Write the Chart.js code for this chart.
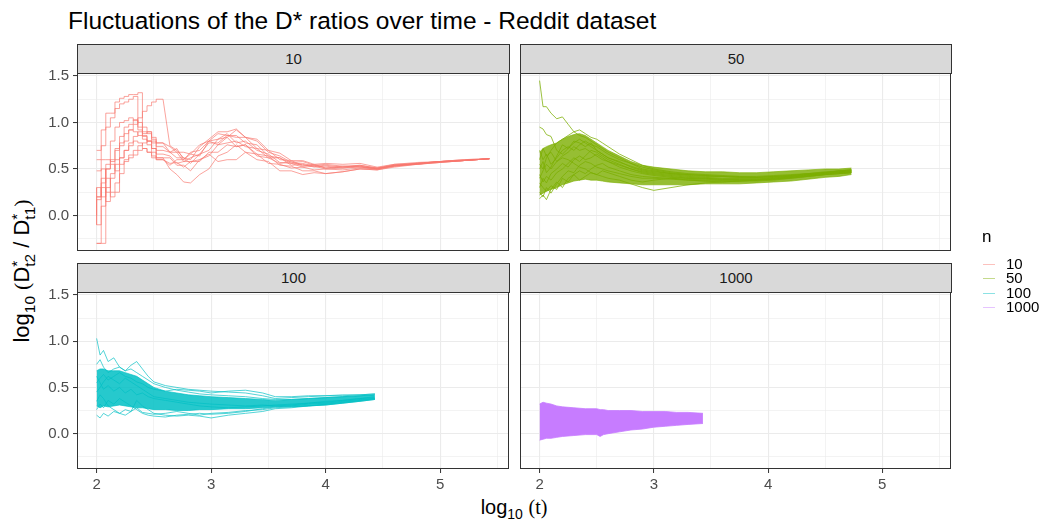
<!DOCTYPE html>
<html>
<head>
<meta charset="utf-8">
<script src="https://cdn.jsdelivr.net/npm/chart.js@4.4.1/dist/chart.umd.min.js"></script>
<style>
  body { margin: 0; background: #fff; width: 1046px; height: 525px; position: relative; overflow: hidden;
         font-family: "Liberation Sans", Arial, sans-serif; }
  canvas { position: absolute; }
  .strip { position: absolute; background: #d9d9d9; border: 1px solid #333; box-sizing: border-box;
           text-align: center; font-size: 15px; color: #1a1a1a; }
  .serif { font-family: "Liberation Serif", "Times New Roman", serif; }
  .stack { display: inline-flex; flex-direction: column; vertical-align: middle; line-height: 0.85; font-size: 0.7em; }
  #title { position: absolute; left: 68px; top: 7px; font-size: 24.5px; color: #000; white-space: nowrap; }
  #xtitle { position: absolute; left: 514px; top: 509px; transform: translate(-50%, -50%); font-size: 20px; white-space: nowrap; }
  #ytitle { position: absolute; left: 24px; top: 271px; transform: translate(-50%, -50%) rotate(-90deg); font-size: 22px; white-space: nowrap; }
  .leg { position: absolute; font-size: 15px; color: #000; white-space: nowrap; }
  .key { position: absolute; height: 1px; width: 12px; }
</style>
</head>
<body>
<div id="title">Fluctuations of the D* ratios over time - Reddit dataset</div>
<div id="xtitle">log<sub style="font-size:0.7em">10</sub> <span class="serif">(t)</span></div>
<div id="ytitle">log<sub style="font-size:0.7em">10</sub> <span class="serif">(</span>D<span class="stack"><span>*</span><span>t2</span></span> / D<span class="stack"><span>*</span><span>t1</span></span><span class="serif">)</span></div>
<canvas id="p10"></canvas>
<canvas id="p50"></canvas>
<canvas id="p100"></canvas>
<canvas id="p1000"></canvas>
<script>
// facet labels and legend
const nLevels = ["10", "50", "100", "1000"];
const nColors = ["#F8766D", "#7CAE00", "#00BFC4", "#C77CFF"];

// axis ticks (major + minor grid)
const xTicks = [2, 2.5, 3, 3.5, 4, 4.5, 5, 5.5];
const yTicks = [-0.25, 0, 0.25, 0.5, 0.75, 1, 1.25, 1.5];

// ---- n = 10 ----
const x10 = [2.00, 2.04, 2.08, 2.12, 2.16, 2.20, 2.24, 2.28, 2.32, 2.36, 2.40, 2.44, 2.48, 2.52, 2.58, 2.64, 2.70, 2.76, 2.82, 2.90,
             2.98, 3.06, 3.14, 3.22, 3.30, 3.40, 3.50, 3.60, 3.70, 3.80, 3.90, 4.00, 4.15, 4.30, 4.45, 4.60, 4.80, 5.00, 5.20, 5.43];
const lines10 = [
  [0.70, 0.70, 0.92, 1.10, 1.10, 1.22, 1.26, 1.28, 1.30, 1.30, 1.32, 0.90, 0.88, 0.82, 0.78, 0.68, 0.72, 0.60, 0.66, 0.64, 0.80, 0.76, 0.84, 0.74, 0.76, 0.64, 0.62, 0.56, 0.58, 0.53, 0.55, 0.51, 0.52, 0.53, 0.50, 0.54, 0.55, 0.58, 0.59, 0.61],
  [0.48, 0.48, 0.60, 0.60, 0.58, 0.70, 0.75, 0.80, 0.92, 0.98, 1.05, 1.12, 1.18, 1.22, 1.25, 0.75, 0.70, 0.62, 0.56, 0.66, 0.70, 0.82, 0.84, 0.92, 0.84, 0.80, 0.68, 0.64, 0.57, 0.58, 0.54, 0.55, 0.53, 0.52, 0.51, 0.53, 0.56, 0.57, 0.59, 0.61],
  [-0.30, -0.30, -0.30, 0.30, 0.45, 0.55, 0.62, 0.70, 0.78, 0.85, 0.90, 0.86, 0.80, 0.72, 0.62, 0.50, 0.44, 0.36, 0.35, 0.44, 0.50, 0.64, 0.68, 0.76, 0.68, 0.66, 0.56, 0.55, 0.51, 0.52, 0.49, 0.50, 0.49, 0.51, 0.50, 0.54, 0.56, 0.58, 0.60, 0.61],
  [0.17, -0.10, 0.40, 0.55, 0.80, 0.95, 1.00, 1.02, 1.05, 1.02, 0.92, 0.85, 0.80, 0.72, 0.66, 0.64, 0.56, 0.58, 0.62, 0.66, 0.78, 0.78, 0.86, 0.84, 0.84, 0.72, 0.70, 0.60, 0.59, 0.54, 0.54, 0.51, 0.53, 0.54, 0.51, 0.55, 0.56, 0.58, 0.59, 0.61],
  [0.00, 0.30, 0.20, 0.40, 0.25, 0.35, 0.55, 0.58, 0.62, 0.65, 0.70, 0.72, 0.68, 0.62, 0.60, 0.56, 0.57, 0.52, 0.58, 0.58, 0.68, 0.68, 0.76, 0.74, 0.76, 0.66, 0.64, 0.54, 0.53, 0.48, 0.48, 0.45, 0.47, 0.50, 0.49, 0.52, 0.55, 0.57, 0.59, 0.61],
  [0.30, 0.20, 0.50, 0.25, 0.20, 0.25, 0.45, 0.60, 0.65, 0.70, 0.75, 0.78, 0.80, 0.78, 0.70, 0.68, 0.62, 0.62, 0.60, 0.74, 0.82, 0.90, 0.90, 0.93, 0.84, 0.82, 0.70, 0.67, 0.59, 0.59, 0.55, 0.56, 0.55, 0.56, 0.52, 0.55, 0.57, 0.58, 0.60, 0.61],
  [-0.30, -0.30, 0.10, 0.50, 0.60, 0.72, 0.85, 0.95, 0.98, 1.03, 0.95, 0.88, 0.90, 0.80, 0.74, 0.68, 0.68, 0.58, 0.58, 0.60, 0.66, 0.58, 0.60, 0.60, 0.68, 0.60, 0.58, 0.48, 0.48, 0.44, 0.46, 0.45, 0.47, 0.50, 0.49, 0.53, 0.55, 0.57, 0.59, 0.61],
  [0.60, 0.60, 0.75, 0.95, 1.05, 1.15, 1.20, 1.22, 1.25, 1.28, 1.00, 0.95, 0.90, 0.84, 0.78, 0.74, 0.68, 0.68, 0.66, 0.76, 0.80, 0.88, 0.86, 0.86, 0.78, 0.76, 0.64, 0.62, 0.56, 0.56, 0.53, 0.54, 0.52, 0.54, 0.51, 0.54, 0.56, 0.58, 0.59, 0.61],
  [0.17, 0.17, 0.35, 0.50, 0.55, 0.48, 0.62, 0.70, 0.75, 0.80, 0.78, 0.72, 0.68, 0.64, 0.60, 0.54, 0.60, 0.60, 0.68, 0.70, 0.80, 0.82, 0.88, 0.78, 0.80, 0.70, 0.66, 0.57, 0.56, 0.52, 0.53, 0.50, 0.51, 0.52, 0.50, 0.53, 0.56, 0.58, 0.59, 0.61],
  [-0.10, 0.20, 0.30, 0.15, 0.40, 0.60, 0.78, 0.88, 0.92, 0.90, 0.86, 0.82, 0.76, 0.68, 0.62, 0.62, 0.54, 0.54, 0.48, 0.60, 0.64, 0.76, 0.78, 0.80, 0.74, 0.72, 0.62, 0.62, 0.54, 0.55, 0.52, 0.53, 0.51, 0.53, 0.50, 0.54, 0.55, 0.58, 0.59, 0.61]
];
const stepEnd10 = 14; // the first points of each n=10 line are drawn as steps

// ---- n = 50 ----
const x50 = [2.00, 2.03, 2.06, 2.10, 2.15, 2.20, 2.25, 2.30, 2.35, 2.40, 2.45, 2.50, 2.55, 2.60, 2.70, 2.80, 2.90, 3.00, 3.15, 3.30,
             3.45, 3.60, 3.75, 3.90, 4.05, 4.20, 4.35, 4.50, 4.62, 4.73];
const band50Hi = [0.68, 0.72, 0.74, 0.76, 0.78, 0.82, 0.85, 0.87, 0.88, 0.86, 0.82, 0.78, 0.74, 0.70, 0.64, 0.58, 0.54, 0.52, 0.50, 0.48, 0.47, 0.47, 0.46, 0.46, 0.47, 0.48, 0.49, 0.50, 0.50, 0.51];
const band50Lo = [0.22, 0.24, 0.26, 0.28, 0.30, 0.33, 0.35, 0.37, 0.38, 0.39, 0.38, 0.38, 0.37, 0.36, 0.35, 0.34, 0.33, 0.33, 0.33, 0.33, 0.34, 0.34, 0.34, 0.35, 0.36, 0.37, 0.39, 0.41, 0.42, 0.44];
const lines50 = [
  [1.45, 1.17, 1.17, 1.10, 1.04, 1.06, 0.98, 0.90, 0.86, 0.84, 0.80, 0.76, 0.72, 0.68, 0.62, 0.56, 0.52, 0.49, 0.46, 0.44, 0.43, 0.42, 0.41, 0.41, 0.42, 0.43, 0.44, 0.46, 0.47, 0.48],
  [0.95, 0.93, 0.87, 0.85, 0.70, 0.66, 0.72, 0.78, 0.82, 0.78, 0.74, 0.70, 0.66, 0.62, 0.58, 0.52, 0.48, 0.46, 0.44, 0.42, 0.41, 0.40, 0.40, 0.40, 0.41, 0.42, 0.44, 0.46, 0.47, 0.48],
  [0.55, 0.50, 0.62, 0.70, 0.78, 0.82, 0.86, 0.90, 0.92, 0.88, 0.84, 0.82, 0.78, 0.74, 0.66, 0.60, 0.54, 0.50, 0.47, 0.45, 0.44, 0.43, 0.42, 0.42, 0.43, 0.44, 0.45, 0.47, 0.48, 0.49],
  [0.18, 0.22, 0.17, 0.28, 0.36, 0.30, 0.40, 0.44, 0.38, 0.42, 0.46, 0.44, 0.48, 0.46, 0.42, 0.38, 0.36, 0.38, 0.40, 0.38, 0.37, 0.36, 0.37, 0.37, 0.38, 0.40, 0.42, 0.44, 0.45, 0.46],
  [0.40, 0.48, 0.55, 0.50, 0.58, 0.62, 0.60, 0.56, 0.52, 0.50, 0.46, 0.44, 0.42, 0.40, 0.38, 0.34, 0.30, 0.27, 0.30, 0.33, 0.35, 0.36, 0.37, 0.38, 0.39, 0.40, 0.42, 0.44, 0.45, 0.46],
  [0.70, 0.60, 0.66, 0.55, 0.62, 0.70, 0.74, 0.70, 0.76, 0.80, 0.76, 0.74, 0.70, 0.66, 0.60, 0.56, 0.50, 0.48, 0.45, 0.43, 0.42, 0.42, 0.41, 0.41, 0.42, 0.43, 0.45, 0.46, 0.48, 0.49],
  [0.30, 0.40, 0.35, 0.45, 0.50, 0.56, 0.52, 0.60, 0.64, 0.60, 0.62, 0.66, 0.62, 0.58, 0.54, 0.50, 0.46, 0.44, 0.42, 0.40, 0.39, 0.38, 0.38, 0.38, 0.40, 0.41, 0.43, 0.45, 0.46, 0.47],
  [0.60, 0.72, 0.64, 0.68, 0.58, 0.64, 0.68, 0.74, 0.70, 0.72, 0.68, 0.64, 0.60, 0.58, 0.52, 0.48, 0.45, 0.43, 0.41, 0.40, 0.40, 0.39, 0.39, 0.39, 0.40, 0.42, 0.43, 0.45, 0.46, 0.47],
  [0.25, 0.20, 0.30, 0.24, 0.34, 0.42, 0.48, 0.46, 0.54, 0.58, 0.56, 0.52, 0.50, 0.48, 0.45, 0.42, 0.40, 0.40, 0.39, 0.38, 0.37, 0.37, 0.37, 0.38, 0.39, 0.41, 0.42, 0.44, 0.45, 0.46],
  [0.50, 0.58, 0.46, 0.52, 0.64, 0.76, 0.72, 0.80, 0.78, 0.74, 0.78, 0.70, 0.66, 0.62, 0.57, 0.53, 0.49, 0.47, 0.45, 0.44, 0.43, 0.42, 0.42, 0.41, 0.42, 0.43, 0.45, 0.46, 0.48, 0.49],
  [0.44, 0.36, 0.42, 0.38, 0.46, 0.50, 0.56, 0.62, 0.58, 0.64, 0.70, 0.68, 0.64, 0.60, 0.55, 0.50, 0.47, 0.45, 0.43, 0.41, 0.40, 0.39, 0.39, 0.39, 0.41, 0.42, 0.44, 0.45, 0.47, 0.48],
  [0.35, 0.30, 0.26, 0.32, 0.28, 0.40, 0.36, 0.44, 0.48, 0.45, 0.50, 0.54, 0.56, 0.52, 0.48, 0.44, 0.42, 0.41, 0.40, 0.39, 0.38, 0.38, 0.38, 0.38, 0.39, 0.41, 0.43, 0.44, 0.46, 0.47]
];

// ---- n = 100 ----
const x100 = [2.00, 2.03, 2.06, 2.10, 2.15, 2.20, 2.25, 2.30, 2.35, 2.40, 2.45, 2.50, 2.60, 2.70, 2.80, 2.90, 3.00, 3.15, 3.30, 3.45,
              3.56, 3.70, 3.85, 4.00, 4.15, 4.30, 4.43];
const band100Hi = [0.68, 0.70, 0.70, 0.68, 0.68, 0.68, 0.66, 0.64, 0.62, 0.58, 0.54, 0.50, 0.46, 0.44, 0.42, 0.41, 0.40, 0.39, 0.38, 0.37, 0.36, 0.37, 0.38, 0.39, 0.40, 0.41, 0.42];
const band100Lo = [0.30, 0.28, 0.30, 0.29, 0.30, 0.31, 0.30, 0.29, 0.28, 0.28, 0.27, 0.26, 0.26, 0.25, 0.25, 0.26, 0.26, 0.27, 0.27, 0.28, 0.29, 0.29, 0.30, 0.31, 0.33, 0.35, 0.37];
const lines100 = [
  [1.03, 0.85, 0.90, 0.78, 0.82, 0.72, 0.68, 0.70, 0.66, 0.62, 0.58, 0.54, 0.50, 0.47, 0.45, 0.43, 0.42, 0.41, 0.40, 0.38, 0.37, 0.37, 0.38, 0.39, 0.40, 0.41, 0.42],
  [0.75, 0.80, 0.72, 0.66, 0.70, 0.72, 0.68, 0.74, 0.78, 0.70, 0.62, 0.56, 0.52, 0.50, 0.48, 0.47, 0.46, 0.45, 0.44, 0.41, 0.38, 0.39, 0.40, 0.41, 0.41, 0.42, 0.43],
  [0.20, 0.17, 0.22, 0.19, 0.24, 0.22, 0.26, 0.24, 0.36, 0.30, 0.26, 0.22, 0.20, 0.19, 0.20, 0.19, 0.17, 0.20, 0.22, 0.24, 0.27, 0.28, 0.30, 0.31, 0.33, 0.35, 0.37],
  [0.55, 0.60, 0.64, 0.58, 0.62, 0.66, 0.62, 0.60, 0.56, 0.54, 0.50, 0.48, 0.46, 0.48, 0.47, 0.46, 0.44, 0.46, 0.47, 0.44, 0.40, 0.40, 0.41, 0.41, 0.42, 0.42, 0.43],
  [0.35, 0.42, 0.38, 0.30, 0.26, 0.22, 0.20, 0.24, 0.28, 0.23, 0.22, 0.21, 0.22, 0.24, 0.22, 0.20, 0.22, 0.23, 0.25, 0.26, 0.28, 0.29, 0.30, 0.32, 0.34, 0.36, 0.38],
  [0.45, 0.50, 0.56, 0.62, 0.58, 0.54, 0.60, 0.56, 0.52, 0.48, 0.44, 0.40, 0.38, 0.36, 0.34, 0.33, 0.32, 0.31, 0.30, 0.31, 0.30, 0.31, 0.33, 0.34, 0.36, 0.38, 0.40],
  [0.62, 0.55, 0.48, 0.52, 0.46, 0.50, 0.44, 0.48, 0.42, 0.44, 0.40, 0.38, 0.36, 0.34, 0.32, 0.30, 0.29, 0.28, 0.29, 0.30, 0.31, 0.32, 0.33, 0.35, 0.36, 0.38, 0.39],
  [0.26, 0.32, 0.28, 0.36, 0.32, 0.38, 0.34, 0.30, 0.26, 0.22, 0.20, 0.19, 0.18, 0.20, 0.21, 0.22, 0.21, 0.22, 0.24, 0.27, 0.29, 0.30, 0.32, 0.33, 0.35, 0.37, 0.38]
];

// ---- n = 1000 ----
const x1000 = [2.00, 2.03, 2.06, 2.10, 2.15, 2.20, 2.30, 2.40, 2.50, 2.53, 2.56, 2.60, 2.70, 2.80, 2.90, 3.00, 3.10, 3.20, 3.30, 3.43];
const band1000Hi = [0.32, 0.34, 0.33, 0.32, 0.30, 0.29, 0.28, 0.27, 0.27, 0.26, 0.26, 0.25, 0.25, 0.25, 0.24, 0.24, 0.24, 0.23, 0.23, 0.22];
const band1000Lo = [-0.07, -0.06, -0.05, -0.05, -0.04, -0.03, -0.02, -0.01, -0.01, -0.03, -0.01, 0.00, 0.02, 0.04, 0.05, 0.07, 0.08, 0.09, 0.10, 0.11];

// ---- layout (pixels) ----
const xMin = 1.8285, xMax = 5.6015, yMin = -0.382, yMax = 1.532;
const panels = [
  { id: "p10",   x: 77,  y: 73,  w: 432, h: 178, showX: false, showY: true },
  { id: "p50",   x: 520, y: 73,  w: 431, h: 178, showX: false, showY: false },
  { id: "p100",  x: 77,  y: 292, w: 432, h: 177, showX: true,  showY: true },
  { id: "p1000", x: 520, y: 292, w: 431, h: 177, showX: true,  showY: false }
];
const Y_AXIS_W = 45, X_AXIS_H = 26, PAD = 20;

const pts = (xs, ys) => xs.map((x, i) => ({ x: x, y: ys[i] }));
const rgba = (hex, a) => {
  const n = parseInt(hex.slice(1), 16);
  return `rgba(${(n >> 16) & 255}, ${(n >> 8) & 255}, ${n & 255}, ${a})`;
};

function lineSet(data, color, alpha, width, stepped) {
  return {
    data: data,
    borderColor: rgba(color, alpha),
    borderWidth: width,
    pointRadius: 0,
    tension: 0,
    stepped: stepped,
    fill: false,
  };
}

function lineSets(xs, lines, color, alpha, width) {
  return lines.map((ys) => lineSet(pts(xs, ys), color, alpha, width, false));
}

// early part as steps, the rest as a plain line
function stepLineSets(xs, lines, cut, color, alpha, width) {
  const out = [];
  lines.forEach((ys) => {
    out.push(lineSet(pts(xs.slice(0, cut + 1), ys.slice(0, cut + 1)), color, alpha, width, "after"));
    out.push(lineSet(pts(xs.slice(cut), ys.slice(cut)), color, alpha, width, false));
  });
  return out;
}

function bandSets(xs, hi, lo, color, alpha) {
  return [
    { data: pts(xs, hi), borderColor: rgba(color, alpha), borderWidth: 0.8, pointRadius: 0, tension: 0,
      fill: "+1", backgroundColor: rgba(color, alpha) },
    { data: pts(xs, lo), borderColor: rgba(color, alpha), borderWidth: 0.8, pointRadius: 0, tension: 0, fill: false },
  ];
}

const panelBorder = {
  id: "panelBorder",
  afterDraw(chart) {
    const a = chart.chartArea, c = chart.ctx;
    c.save();
    c.strokeStyle = "#333333";
    c.lineWidth = 1;
    c.strokeRect(Math.round(a.left) + 0.5, Math.round(a.top) + 0.5, Math.round(a.right - a.left) - 1, Math.round(a.bottom - a.top) - 1);
    c.restore();
  },
};

const isMajorX = (v) => Math.abs(v - Math.round(v)) < 1e-9;
const isMajorY = (v) => Math.abs(v * 2 - Math.round(v * 2)) < 1e-9;

function makePanel(p, datasets) {
  const padL = PAD + (p.showY ? Y_AXIS_W : 0);
  const cv = document.getElementById(p.id);
  cv.width = padL + p.w + PAD;
  cv.height = PAD + p.h + (p.showX ? X_AXIS_H : 0) + PAD;
  cv.style.left = p.x - padL + "px";
  cv.style.top = p.y - PAD + "px";

  new Chart(cv, {
    type: "line",
    data: { datasets: datasets },
    options: {
      responsive: false,
      animation: false,
      events: [],
      layout: { padding: PAD },
      plugins: { legend: { display: false }, tooltip: { enabled: false } },
      scales: {
        x: {
          type: "linear",
          min: xMin,
          max: xMax,
          afterBuildTicks: (s) => { s.ticks = xTicks.map((v) => ({ value: v })); },
          afterFit: (s) => { s.height = p.showX ? X_AXIS_H : 0; },
          border: { display: false },
          grid: {
            color: "#ebebeb",
            lineWidth: (c) => (c.tick && isMajorX(c.tick.value) ? 1.1 : 0.6),
            drawTicks: p.showX,
            tickLength: 4,
            tickWidth: 1,
            tickColor: (c) => (c.tick && isMajorX(c.tick.value) ? "#333333" : "rgba(0,0,0,0)"),
          },
          ticks: {
            display: p.showX,
            autoSkip: false,
            maxRotation: 0,
            padding: 3,
            color: "#4d4d4d",
            font: { family: "Liberation Sans", size: 15 },
            callback: (v) => (isMajorX(v) ? String(v) : ""),
          },
        },
        y: {
          type: "linear",
          min: yMin,
          max: yMax,
          afterBuildTicks: (s) => { s.ticks = yTicks.map((v) => ({ value: v })); },
          afterFit: (s) => { s.width = p.showY ? Y_AXIS_W : 0; },
          border: { display: false },
          grid: {
            color: "#ebebeb",
            lineWidth: (c) => (c.tick && isMajorY(c.tick.value) ? 1.1 : 0.6),
            drawTicks: p.showY,
            tickLength: 4,
            tickWidth: 1,
            tickColor: (c) => (c.tick && isMajorY(c.tick.value) ? "#333333" : "rgba(0,0,0,0)"),
          },
          ticks: {
            display: p.showY,
            autoSkip: false,
            padding: 4,
            color: "#4d4d4d",
            font: { family: "Liberation Sans", size: 15 },
            callback: (v) => (isMajorY(v) ? v.toFixed(1) : ""),
          },
        },
      },
    },
    plugins: [panelBorder],
  });

  // facet strip above the panel
  const s = document.createElement("div");
  s.className = "strip";
  s.style.left = p.x + "px";
  s.style.top = p.y - 29 + "px";
  s.style.width = p.w + 1 + "px";
  s.style.height = "30px";
  s.style.lineHeight = "28px";
  s.textContent = nLevels[panels.indexOf(p)];
  document.body.appendChild(s);
}

makePanel(panels[0], stepLineSets(x10, lines10, stepEnd10, nColors[0], 0.75, 0.9));
makePanel(panels[1], lineSets(x50, lines50, nColors[1], 0.95, 0.8)
  .concat(bandSets(x50, band50Hi, band50Lo, nColors[1], 0.8)));
makePanel(panels[2], lineSets(x100, lines100, nColors[2], 0.85, 0.8)
  .concat(bandSets(x100, band100Hi, band100Lo, nColors[2], 0.85)));
makePanel(panels[3], bandSets(x1000, band1000Hi, band1000Lo, nColors[3], 1));

// legend
const lt = document.createElement("div");
lt.className = "leg";
lt.style.left = "982px";
lt.style.top = "227px";
lt.style.fontSize = "17px";
lt.textContent = "n";
document.body.appendChild(lt);
nLevels.forEach((lab, i) => {
  const cy = 264 + i * 14.3;
  const k = document.createElement("div");
  k.className = "key";
  k.style.left = "983px";
  k.style.top = Math.round(cy) + "px";
  k.style.background = rgba(nColors[i], 0.45);
  document.body.appendChild(k);
  const t = document.createElement("div");
  t.className = "leg";
  t.style.left = "1006px";
  t.style.top = Math.round(cy - 9) + "px";
  t.style.lineHeight = "18px";
  t.textContent = lab;
  document.body.appendChild(t);
});
</script>
</body>
</html>
